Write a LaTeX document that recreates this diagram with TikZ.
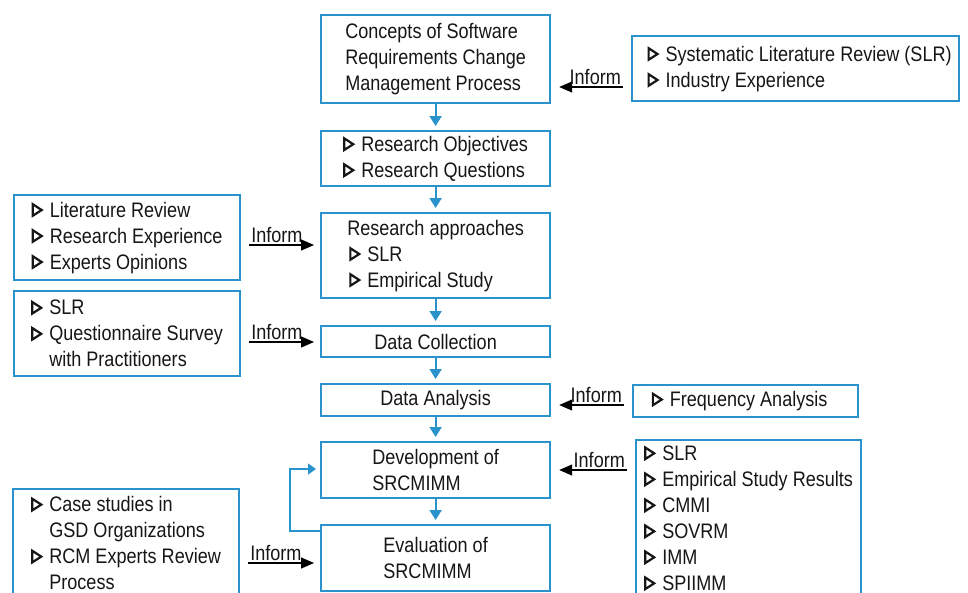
\documentclass[tikz,border=0pt]{standalone}
\usepackage{fontspec}
\setmainfont{Liberation Sans}[FakeStretch=0.86]
\usetikzlibrary{arrows.meta}
\definecolor{bblue}{HTML}{2B93CC}
\definecolor{ink}{HTML}{161616}
\newcommand\tri{\tikz[baseline=0pt]\draw[line width=2.2pt,line join=miter,ink] (1.1pt,1.3pt)--(1.1pt,12.8pt)--(10pt,7pt)--cycle;\hspace{7pt}}
\begin{document}
\begin{tikzpicture}[x=1pt,y=-1pt,
  font=\fontsize{21}{26}\selectfont, text=ink,
  box/.style={draw=bblue, line width=2.2pt, inner sep=0pt, align=left, anchor=north west},
  flow/.style={draw=bblue, line width=2pt, shorten >=4pt, -{Triangle[width=12pt,length=10pt]}},
  fb/.style={draw=bblue, line width=1.4pt, shorten >=4pt, -{Triangle[width=11pt,length=8pt]}},
  inform/.style={draw=black, line width=1.3pt, shorten <=8pt, -{Triangle[width=11pt,length=13pt]}},
  lbl/.style={inner sep=1.5pt, font=\fontsize{21}{24}\selectfont},
  lblr/.style={lbl, pos=0, anchor=south east, xshift=-8pt},
  lbll/.style={lbl, pos=0, anchor=south west, xshift=8pt}]
\useasboundingbox (0,0) rectangle (968,592);
\clip (0,0) rectangle (968,592);
% central column
\node[box, minimum width=229pt, minimum height=88pt] (c1) at (320,14)
  {Concepts of Software\\Requirements Change\\Management Process};
\node[box, minimum width=229pt, minimum height=55pt] (c2) at (320,130)
  {\tri Research Objectives\\\tri Research Questions};
\node[box, minimum width=229pt, minimum height=85pt] (c3) at (320,212)
  {Research approaches\\\hspace{2pt}\tri SLR\\\hspace{2pt}\tri Empirical Study};
\node[box, minimum width=229pt, minimum height=31pt] (c4) at (320,325)
  {Data Collection};
\node[box, minimum width=229pt, minimum height=32pt] (c5) at (320,383)
  {Data Analysis};
\node[box, minimum width=229pt, minimum height=56pt] (c6) at (320,441)
  {Development of\\SRCMIMM};
\node[box, minimum width=229pt, minimum height=66pt] (c7) at (320,524)
  {Evaluation of\\SRCMIMM};
% right boxes
\node[box, minimum width=327pt, minimum height=65pt] (r1) at (631,35)
  {\hspace*{8pt}\tri Systematic Literature Review (SLR)\\\hspace*{8pt}\tri Industry Experience};
\node[box, minimum width=225pt, minimum height=32pt] (r2) at (632,384)
  {\tri Frequency Analysis\hspace{12pt}};
\node[box, minimum width=225pt, minimum height=156pt] (r3) at (635,439)
  {\tri SLR\\\tri Empirical Study Results\\\tri CMMI\\\tri SOVRM\\\tri IMM\\\tri SPIIMM};
% left boxes
\node[box, minimum width=226pt, minimum height=85pt] (l1) at (13,194)
  {\tri Literature Review\\\tri Research Experience\\\tri Experts Opinions};
\node[box, minimum width=226pt, minimum height=85pt] (l2) at (13,290)
  {\tri SLR\\\tri Questionnaire Survey\\\phantom{\tri}with Practitioners};
\node[box, minimum width=226pt, minimum height=108pt] (l3) at (12,488)
  {\tri Case studies in\\\phantom{\tri}GSD Organizations\\\tri RCM Experts Review\\\phantom{\tri}Process};
% flow arrows
\draw[flow] (c1.south) -- (c2.north);
\draw[flow] (c2.south) -- (c3.north);
\draw[flow] (c3.south) -- (c4.north);
\draw[flow] (c4.south) -- (c5.north);
\draw[flow] (c5.south) -- (c6.north);
\draw[flow] (c6.south) -- (c7.north);
% feedback
\coordinate (f1) at (290,531);
\coordinate (f2) at (290,469);
\draw[fb] (c7.west |- f1) -- (f1) -- (f2) -- (c6.west |- f2);
% inform arrows
\draw[inform, shorten >=8pt] (r1.west |- 0,87) -- node[lblr] {Inform} (c1.east |- 0,87);
\draw[inform, shorten >=8pt] (r2.west |- 0,405) -- node[lblr] {Inform} (c5.east |- 0,405);
\draw[inform, shorten >=8pt] (r3.west |- 0,470) -- node[lblr] {Inform} (c6.east |- 0,470);
\draw[inform, shorten >=6pt] (l1.east |- 0,245) -- node[lbll] {Inform} (c3.west |- 0,245);
\draw[inform, shorten >=6pt] (l2.east |- 0,342) -- node[lbll] {Inform} (c4.west |- 0,342);
\draw[inform, shorten >=6pt] (l3.east |- 0,563) -- node[lbll] {Inform} (c7.west |- 0,563);
\end{tikzpicture}
\end{document}
